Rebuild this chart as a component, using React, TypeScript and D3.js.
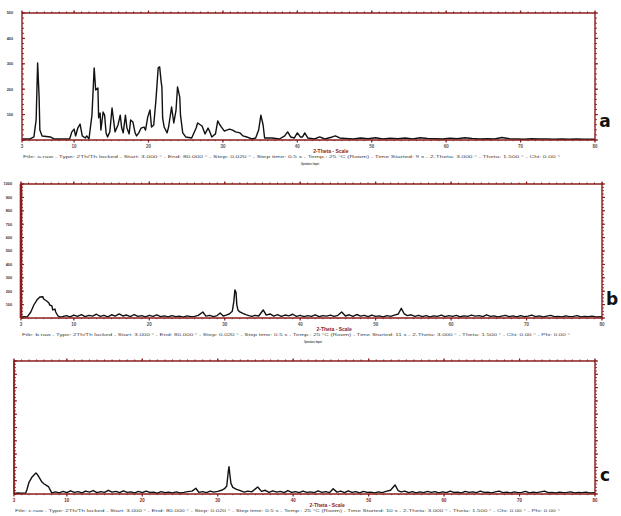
import React from "react";
import * as d3 from "d3";

type Pt = [number, number];

// 2-Theta tick labels (bottom axis)
const xTickLabels = [3, 10, 20, 30, 40, 50, 60, 70, 80];

// pattern a: [2-theta, counts]
const patternA: Pt[] = [
  [3, 4], [4.1, 4], [4.6, 12], [4.9, 79], [5.1, 303], [5.3, 169], [5.4, 39], [5.7, 16], [6.8, 12], [7.3, 4],
  [9.4, 4], [9.7, 32], [10, 43], [10.2, 16], [10.5, 47], [10.8, 63], [11.1, 16], [11.5, 8], [11.7, 16], [12, 4],
  [12.4, 98], [12.7, 284], [12.9, 197], [13.2, 205], [13.3, 87], [13.5, 106], [13.6, 39], [13.9, 110], [14.1, 98],
  [14.3, 28], [14.5, 12], [14.8, 32], [15.1, 126], [15.3, 79], [15.5, 32], [15.9, 59], [16.2, 98], [16.4, 47],
  [16.6, 28], [16.9, 98], [17.1, 47], [17.4, 24], [17.6, 79], [17.9, 71], [18.2, 28], [18.4, 16], [18.7, 28],
  [19, 47], [19.4, 51], [19.6, 39], [19.9, 91], [20.2, 118], [20.4, 51], [20.7, 59], [21, 158], [21.3, 284],
  [21.5, 288], [21.7, 229], [21.8, 209], [21.9, 87], [22.1, 51], [22.5, 28], [22.7, 51], [23.1, 130], [23.4, 67],
  [23.7, 118], [23.9, 209], [24.2, 169], [24.3, 98], [24.6, 28], [25, 12], [25.8, 8], [26.4, 47], [26.6, 67],
  [27.2, 55], [27.6, 24], [28, 47], [28.2, 35], [28.5, 12], [29, 24], [29.3, 75], [29.6, 59], [29.8, 51],
  [30.2, 35], [30.5, 39], [30.9, 43], [31.3, 39], [31.7, 32], [32.3, 28], [32.7, 16], [33.2, 12], [33.9, 4],
  [34.4, 8], [34.8, 39], [35.1, 98], [35.4, 59], [35.6, 8], [36.6, 8], [37.6, 4], [38.3, 16], [38.7, 32],
  [39.1, 12], [39.6, 8], [40, 28], [40.4, 12], [40.7, 12], [41, 28], [41.4, 8], [42.3, 4], [43, 12], [43.7, 4],
  [44.7, 12], [45.1, 16], [45.7, 8], [46.5, 6], [47.5, 4], [48.5, 8], [49.5, 5], [50.5, 9], [51.5, 4], [52.5, 7],
  [53.5, 5], [54.5, 8], [55.5, 4], [56.5, 9], [57.5, 6], [58.5, 5], [59.5, 4], [60.5, 7], [61.5, 5], [62.5, 9],
  [63.5, 6], [64.5, 4], [65.5, 5], [66.5, 4], [67.5, 10], [68.5, 5], [69.5, 4], [70.5, 3], [71.5, 5], [72.5, 4],
  [73.5, 4], [74.5, 3], [75.5, 4], [76.5, 3], [77.5, 4], [78.5, 3], [80, 3],
];

// pattern b
const patternB: Pt[] = [
  [3, 6], [3.4, 10], [3.8, 7], [4.3, 45], [4.7, 97], [5.1, 134], [5.5, 157], [5.9, 159], [6, 142], [6.4, 127],
  [6.7, 112], [6.8, 97], [7.1, 90], [7.2, 60], [7.5, 67], [7.6, 45], [7.9, 15], [8.2, 7],
  [8.5, 10], [9, 18], [9.5, 8], [10, 22], [10.5, 12], [11, 25], [11.5, 10], [12, 20], [12.5, 14], [13, 28],
  [13.5, 12], [14, 20], [14.5, 9], [15, 24], [15.5, 14], [16, 30], [16.5, 15], [17, 22], [17.5, 10], [18, 26],
  [18.5, 12], [19, 18], [19.5, 8], [20, 20], [20.5, 12], [21, 24], [21.5, 10], [22, 16], [22.5, 8], [23, 18],
  [23.5, 10], [24, 14], [24.5, 6], [25, 16], [25.5, 10], [26, 12], [26.5, 20], [27.1, 45], [27.5, 14], [28, 20],
  [28.5, 10], [29, 18], [29.4, 37], [29.8, 15], [30.2, 22], [30.6, 30], [31, 50], [31.2, 120], [31.35, 210],
  [31.5, 190], [31.6, 100], [31.75, 60], [32, 45], [32.4, 35], [32.8, 25], [33.2, 18], [33.6, 12], [34, 20],
  [34.5, 15], [35.1, 60], [35.5, 22], [36, 30], [36.5, 14], [37, 25], [37.5, 12], [38, 22], [38.5, 16], [39, 28],
  [39.5, 12], [40, 20], [40.5, 10], [41, 18], [41.5, 12], [42, 24], [42.5, 10], [43, 18], [43.5, 14], [44, 22],
  [44.5, 12], [45, 20], [45.5, 45], [46, 15], [46.5, 24], [47, 12], [47.5, 26], [48, 14], [48.5, 20], [49, 10],
  [49.5, 22], [50, 12], [50.5, 16], [51, 8], [51.5, 18], [52, 12], [52.5, 22], [53, 30], [53.4, 72], [53.8, 30],
  [54.2, 18], [54.7, 24], [55.2, 12], [55.7, 20], [56.2, 10], [56.7, 18], [57.2, 8], [57.7, 16], [58.2, 12],
  [58.7, 22], [59.2, 10], [59.7, 18], [60.2, 12], [60.7, 20], [61.2, 9], [61.7, 16], [62.2, 12], [62.7, 22],
  [63.2, 14], [63.7, 18], [64.2, 10], [64.7, 24], [65.2, 12], [65.7, 16], [66.2, 8], [66.7, 14], [67.2, 20],
  [67.7, 10], [68.2, 16], [68.7, 8], [69.2, 18], [69.7, 10], [70.2, 14], [70.7, 22], [71.2, 10], [71.7, 16],
  [72.2, 8], [72.7, 14], [73.2, 20], [73.7, 10], [74.2, 12], [74.7, 8], [75.2, 16], [75.7, 10], [76.2, 12],
  [76.7, 18], [77.2, 8], [77.7, 12], [78.2, 10], [78.7, 14], [79.2, 8], [80, 10],
];

// pattern c
const patternC: Pt[] = [
  [3, 5], [3.5, 8], [4, 6], [4.55, 8], [4.7, 30], [5, 90], [5.4, 128], [5.9, 158], [6.05, 150], [6.3, 128],
  [6.7, 90], [7, 75], [7.2, 68], [7.6, 53], [8, 8], [8.5, 16], [9, 8], [9.5, 20], [10, 10], [10.5, 24], [11, 12],
  [11.5, 18], [12, 8], [12.5, 22], [13, 14], [13.5, 26], [14, 10], [14.5, 18], [15, 12], [15.5, 28], [16, 14],
  [16.5, 20], [17, 10], [17.5, 24], [18, 12], [18.5, 16], [19, 8], [19.5, 20], [20, 10], [20.5, 22], [21, 12],
  [21.5, 14], [22, 6], [22.5, 18], [23, 10], [23.5, 14], [24, 8], [24.5, 16], [25, 8], [25.5, 12], [26, 18],
  [26.6, 22], [27.1, 43], [27.5, 12], [28, 18], [28.5, 10], [29, 22], [29.5, 14], [30, 20], [30.5, 28], [30.9, 40],
  [31.2, 60], [31.4, 170], [31.5, 205], [31.6, 150], [31.75, 80], [32, 50], [32.5, 35], [33, 25], [33.5, 14],
  [34, 22], [34.5, 16], [35.3, 53], [35.8, 20], [36.3, 28], [36.8, 12], [37.3, 24], [37.8, 14], [38.3, 20],
  [38.8, 10], [39.3, 26], [39.8, 12], [40.3, 18], [40.8, 10], [41.3, 22], [41.8, 12], [42.3, 16], [42.8, 10],
  [43.3, 24], [43.8, 12], [44.3, 18], [44.8, 10], [45.3, 40], [45.8, 14], [46.3, 22], [46.8, 10], [47.3, 24],
  [47.8, 12], [48.3, 18], [48.8, 8], [49.3, 20], [49.8, 12], [50.3, 14], [50.8, 8], [51.3, 16], [51.8, 10],
  [52.3, 20], [52.9, 28], [53.5, 68], [53.9, 26], [54.3, 16], [54.8, 22], [55.3, 10], [55.8, 18], [56.3, 8],
  [56.8, 16], [57.3, 10], [57.8, 20], [58.3, 12], [58.8, 18], [59.3, 8], [59.8, 16], [60.3, 10], [60.8, 22],
  [61.3, 12], [61.8, 14], [62.3, 8], [62.8, 20], [63.3, 12], [63.8, 16], [64.3, 10], [64.8, 22], [65.3, 12],
  [65.8, 14], [66.3, 8], [66.8, 16], [67.3, 22], [67.8, 10], [68.3, 14], [68.8, 8], [69.3, 16], [69.8, 10],
  [70.3, 12], [70.8, 20], [71.3, 8], [71.8, 14], [72.3, 10], [72.8, 16], [73.3, 22], [73.8, 10], [74.3, 12],
  [74.8, 8], [75.3, 14], [75.8, 10], [76.3, 12], [76.8, 16], [77.3, 8], [77.8, 12], [78.3, 10], [78.8, 14],
  [79.3, 8], [80, 10],
];

const axisTitle = "2-Theta - Scale";
const infoA = "File: a.raw - Type: 2Th/Th locked - Start: 3.000 ° - End: 80.000 ° - Step: 0.020 ° - Step time: 0.5 s - Temp.: 25 °C (Room) - Time Started: 9 s - 2-Theta: 3.000 ° - Theta: 1.500 ° - Chi: 0.00 °";
const infoB = "File: b.raw - Type: 2Th/Th locked - Start: 3.000 ° - End: 80.000 ° - Step: 0.020 ° - Step time: 0.5 s - Temp.: 25 °C (Room) - Time Started: 11 s - 2-Theta: 3.000 ° - Theta: 1.500 ° - Chi: 0.00 ° - Phi: 0.00 °";
const infoC = "File: c.raw - Type: 2Th/Th locked - Start: 3.000 ° - End: 80.000 ° - Step: 0.020 ° - Step time: 0.5 s - Temp.: 25 °C (Room) - Time Started: 10 s - 2-Theta: 3.000 ° - Theta: 1.500 ° - Chi: 0.00 ° - Phi: 0.00 °";
const opsText = "Operations: Import";

const RED = "#8a1c1c";

type PanelProps = {
  data: Pt[];
  left: number; right: number; top: number; bottom: number;
  yMax: number; yMajor: number; yMinor: number;
  showYLabels: boolean;
  leftWidth: number;
  letter: string;
  tickColor: string;
  info: string; infoEnd: number;
  showOps: boolean;
};

function Panel(p: PanelProps) {
  const x = d3.scaleLinear([3, 80], [p.left, p.right]);
  const y = d3.scaleLinear([0, p.yMax], [p.bottom, p.top]);
  const line = d3.line<Pt>().x(d => x(d[0])).y(d => y(d[1]));
  const minorX = d3.range(3, 80.01, 1);
  const majorY = d3.range(0, p.yMax + 0.1, p.yMajor);
  const minorY = d3.range(0, p.yMax + 0.1, p.yMinor);
  return (
    <g>
      <path d={line(p.data)!} fill="none" stroke="#111" strokeWidth={1.4} strokeLinejoin="round" />
      {/* frame */}
      <line x1={p.left} x2={p.right} y1={p.top} y2={p.top} stroke={RED} strokeWidth={1.4} />
      <line x1={p.left} x2={p.right} y1={p.bottom} y2={p.bottom} stroke={RED} strokeWidth={1.4} />
      <line x1={p.left} x2={p.left} y1={p.top} y2={p.bottom} stroke={RED} strokeWidth={p.leftWidth} />
      <line x1={p.right} x2={p.right} y1={p.top} y2={p.bottom} stroke={RED} strokeWidth={1.4} />
      {/* top and bottom ticks */}
      {minorX.map(v => (
        <g key={v}>
          <line x1={x(v)} x2={x(v)} y1={p.top} y2={p.top - 1.5} stroke={RED} strokeWidth={1} />
          <line x1={x(v)} x2={x(v)} y1={p.bottom} y2={p.bottom + 1.2} stroke={RED} strokeWidth={0.8} />
        </g>
      ))}
      {xTickLabels.map(v => (
        <g key={v}>
          <line x1={x(v)} x2={x(v)} y1={p.top} y2={p.top - 2.5} stroke={RED} strokeWidth={1.3} />
          <line x1={x(v)} x2={x(v)} y1={p.bottom} y2={p.bottom + 2.5} stroke={RED} strokeWidth={1.2} />
          <text x={x(v)} y={p.bottom + 7.5} fontSize={4.5} fontWeight="bold" textAnchor="middle"
            fill={p.tickColor} fontFamily="Liberation Sans, Arial, sans-serif">{v}</text>
        </g>
      ))}
      {/* left and right ticks */}
      {minorY.map(v => (
        <g key={v}>
          <line x1={p.left} x2={p.left + 2} y1={y(v)} y2={y(v)} stroke={RED} strokeWidth={0.9} />
          <line x1={p.right} x2={p.right + 2} y1={y(v)} y2={y(v)} stroke={RED} strokeWidth={0.9} />
        </g>
      ))}
      {majorY.map(v => (
        <g key={v}>
          <line x1={p.left} x2={p.left + 3} y1={y(v)} y2={y(v)} stroke={RED} strokeWidth={1.1} />
          <line x1={p.right} x2={p.right + 3} y1={y(v)} y2={y(v)} stroke={RED} strokeWidth={1.1} />
          {p.showYLabels && v > 0 && (
            <text x={p.left - 9} y={y(v) + 1.3} fontSize={3.8} fontWeight="bold" textAnchor="end"
              fill="#333" fontFamily="Liberation Sans, Arial, sans-serif">{v}</text>
          )}
        </g>
      ))}
      {/* axis title and file info */}
      <text x={(x(40) + x(49)) / 2} y={p.bottom + 13} fontSize={5} fontWeight="bold" textAnchor="middle"
        fill={RED} fontFamily="Liberation Sans, Arial, sans-serif">{axisTitle}</text>
      <text x={p.left + 1} y={p.bottom + 17.5} fontSize={3.6} textLength={p.infoEnd - p.left - 1}
        lengthAdjust="spacingAndGlyphs" fill="#444" fontFamily="Liberation Sans, Arial, sans-serif">{p.info}</text>
      {p.showOps && (
        <text x={x(40.5)} y={p.bottom + 24.5} fontSize={3.8} fontWeight="bold" textLength={18}
          lengthAdjust="spacingAndGlyphs" fill="#333" fontFamily="Liberation Sans, Arial, sans-serif">{opsText}</text>
      )}
      <text x={p.right + 10} y={p.bottom - 13} fontSize={17} fontWeight="900" textAnchor="middle"
        fill="#111" fontFamily="DejaVu Sans, Arial, sans-serif">{p.letter}</text>
    </g>
  );
}

export default function App() {
  return (
    <svg width={621} height={516} style={{ position: "absolute", left: 0, top: 0, background: "#fff" }}>
      <rect width={621} height={516} fill="#fff" />
      <Panel data={patternA} left={22} right={595} top={13} bottom={140} yMax={500} yMajor={100} yMinor={20}
        showYLabels={true} leftWidth={1.4} letter="a" tickColor="#555" info={infoA} infoEnd={560} showOps={true} />
      <Panel data={patternB} left={21} right={602} top={184} bottom={318} yMax={1000} yMajor={100} yMinor={25}
        showYLabels={true} leftWidth={2.6} letter="b" tickColor="#555" info={infoB} infoEnd={570} showOps={true} />
      <Panel data={patternC} left={14} right={595} top={361} bottom={494} yMax={1000} yMajor={100} yMinor={25}
        showYLabels={false} leftWidth={1.8} letter="c" tickColor={RED} info={infoC} infoEnd={560} showOps={false} />
    </svg>
  );
}
